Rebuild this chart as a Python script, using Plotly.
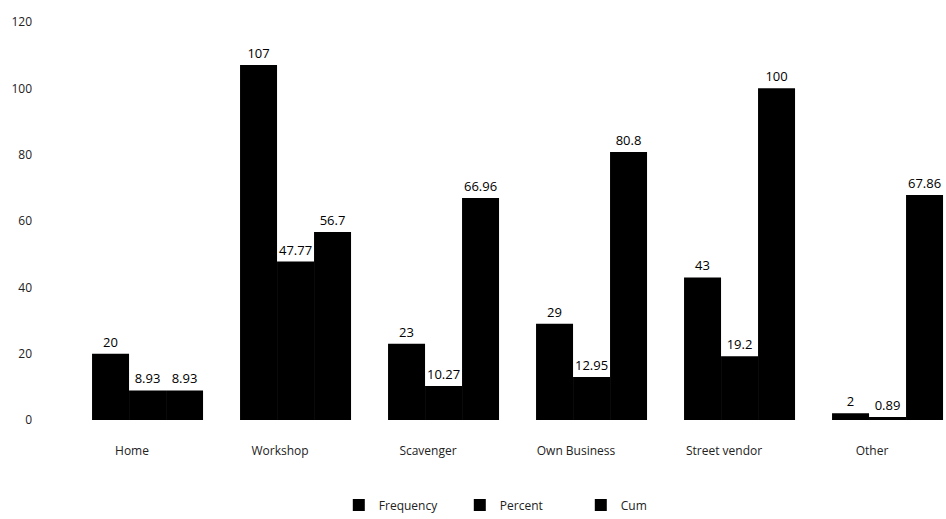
import plotly.graph_objects as go

categories = ["Home", "Workshop", "Scavenger", "Own Business", "Street vendor", "Other"]
frequency = [20, 107, 23, 29, 43, 2]
percent = [8.93, 47.77, 10.27, 12.95, 19.2, 0.89]
cum = [8.93, 56.7, 66.96, 80.8, 100, 67.86]

series = [("Frequency", frequency), ("Percent", percent), ("Cum", cum)]
bar_w = 0.25
offsets = [-0.27, -0.02, 0.23]

fig = go.Figure()
for (name, vals), off in zip(series, offsets):
    fig.add_trace(go.Bar(
        x=categories, y=vals, name=name,
        width=bar_w, offset=off,
        marker=dict(color="black", line=dict(width=0)),
        text=[f"{v:g}" for v in vals], textposition="outside",
        textfont=dict(size=13, color="black"), cliponaxis=False,
    ))

fig.update_layout(
    width=946, height=519,
    margin=dict(l=58, r=0, t=22, b=99),
    paper_bgcolor="white", plot_bgcolor="white",
    font=dict(family="Open Sans", size=12, color="#222"),
    barmode="overlay",
    showlegend=True,
    legend=dict(orientation="h", xref="container", x=0.55, xanchor="center",
                yref="container", y=0.027, yanchor="middle",
                font=dict(size=12, color="#222"), itemwidth=30,
                entrywidth=76, entrywidthmode="pixels"),
    xaxis=dict(showline=False, ticks="", showgrid=False,
               tickfont=dict(size=12, color="#222"), ticklabelstandoff=22),
    yaxis=dict(range=[0, 120], dtick=20, showgrid=False, zeroline=False,
               showline=False, ticks="", tickfont=dict(size=12, color="#222"),
               ticklabelstandoff=25),
)

fig.write_html("out.html")
